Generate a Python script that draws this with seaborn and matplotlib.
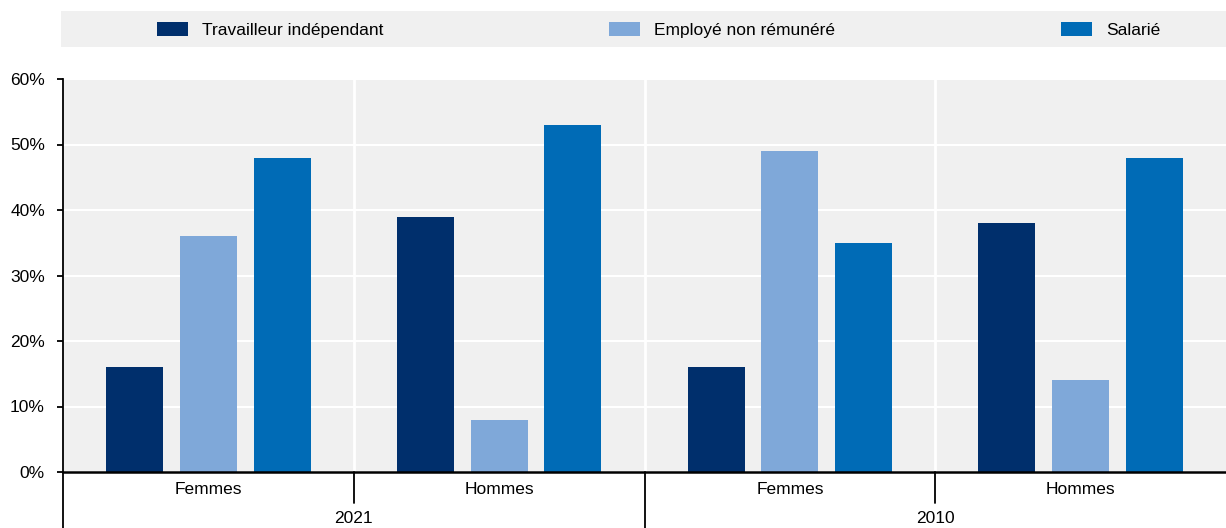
import pandas as pd
import seaborn as sns
import matplotlib.pyplot as plt
import matplotlib.transforms as mtrans
from matplotlib.patches import Rectangle

# data
annees = ["2021", "2021", "2010", "2010"]
sexe = ["Femmes", "Hommes", "Femmes", "Hommes"]
statuts = ["Travailleur indépendant", "Employé non rémunéré", "Salarié"]
independant = [16, 39, 16, 38]
non_remunere = [36, 8, 49, 14]
salarie = [48, 53, 35, 48]
couleurs = ["#002F6C", "#7FA8D9", "#006BB6"]

groupes = [f"{a} {s}" for a, s in zip(annees, sexe)]
df = pd.DataFrame({"groupe": groupes,
                   statuts[0]: independant,
                   statuts[1]: non_remunere,
                   statuts[2]: salarie})
df = df.melt(id_vars="groupe", var_name="statut", value_name="part")

sns.set_theme(style="white")
plt.rcParams["font.family"] = ["Liberation Sans", "DejaVu Sans"]
plt.rcParams["font.size"] = 12.5
plt.rcParams["text.color"] = "black"
plt.rcParams["xtick.labelcolor"] = "black"
plt.rcParams["ytick.labelcolor"] = "black"

fig = plt.figure(figsize=(12.26, 5.28), dpi=100)
ax = fig.add_axes([63 / 1226, 56 / 528, 1163 / 1226, 393 / 528])
ax.set_facecolor("#F0F0F0")

sns.barplot(data=df, x="groupe", y="part", hue="statut", order=groupes,
            hue_order=statuts, palette=couleurs, saturation=1,
            width=0.76, gap=0.226, errorbar=None, linewidth=0, ax=ax)

ax.set_xlim(-0.5, 3.5)
ax.set_ylim(0, 60)
ax.set_yticks(range(0, 61, 10))
ax.set_yticklabels([f"{v}%" for v in range(0, 61, 10)])
ax.set_xticks(range(4))
ax.set_xticklabels(sexe)
ax.set_xlabel("")
ax.set_ylabel("")

# grid
ax.set_axisbelow(True)
ax.yaxis.grid(True, color="white", lw=1.5)
for xv in [0.5, 1.5, 2.5]:
    ax.axvline(xv, color="white", lw=2, zorder=0.6)

for s in ["top", "right"]:
    ax.spines[s].set_visible(False)
ax.spines["left"].set_color("black")
ax.spines["left"].set_linewidth(1.3)
ax.spines["bottom"].set_color("black")
ax.spines["bottom"].set_linewidth(1.8)
ax.tick_params(axis="y", left=True, length=4, width=1.3, color="black",
               labelcolor="black", pad=9, labelsize=12.5)
ax.tick_params(axis="x", bottom=False, length=0, pad=7, labelcolor="black", labelsize=12.5)

# multi-level category separators
trans = mtrans.blended_transform_factory(ax.transData, ax.transAxes)
for xv in [-0.5, 1.5]:
    ax.plot([xv, xv], [0, -0.16], transform=trans, color="black", lw=1.3, clip_on=False)
for xv in [0.5, 2.5]:
    ax.plot([xv, xv], [0, -0.078], transform=trans, color="black", lw=1.3, clip_on=False)
for xv, an in [(0.5, "2021"), (2.5, "2010")]:
    ax.text(xv, -0.118, an, transform=trans, ha="center", va="center",
            fontsize=12.5, color="black")

# legend band
fig.patches.append(Rectangle((61 / 1226, 1 - 47 / 528), (1226 - 61) / 1226, 36 / 528,
                             transform=fig.transFigure, facecolor="#F0F0F0",
                             edgecolor="none", zorder=-1))
sns.move_legend(ax, "center left", bbox_to_anchor=(157 / 1226, 1 - 30 / 528),
                bbox_transform=fig.transFigure, ncol=3, frameon=False, title=None,
                borderpad=0, borderaxespad=0, handlelength=1.8, handleheight=0.85,
                handletextpad=0.8, columnspacing=13.0, fontsize=12.5,
                labelcolor="black")

fig.savefig("out.png", dpi=100)
